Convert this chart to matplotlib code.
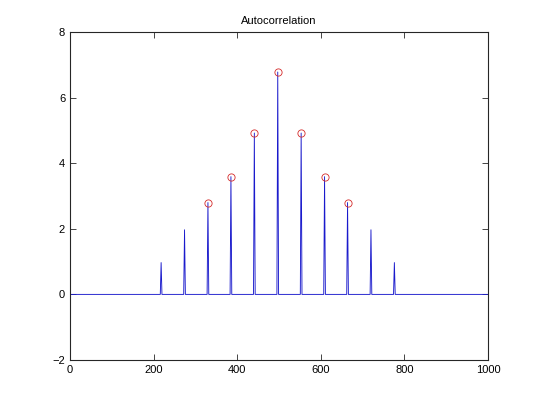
import matplotlib
matplotlib.use("Agg")
import matplotlib.pyplot as plt
import numpy as np

plt.rcParams['font.family'] = ['Liberation Sans', 'DejaVu Sans']

# Data
peak_lags = [218, 274, 330, 385, 441, 497, 553, 609, 664, 720, 776]
peak_values = [0.97, 1.97, 2.80, 3.59, 4.92, 6.78, 4.92, 3.59, 2.80, 1.97, 0.97]
marked_lags = [330, 385, 441, 497, 553, 609, 664]
marked_values = [2.80, 3.59, 4.92, 6.78, 4.92, 3.59, 2.80]
x_start, x_end = 0, 1000
half_width = 2

# Build line vertices: baseline with narrow triangular peaks
xs = [x_start]
ys = [0.0]
for lag, val in zip(peak_lags, peak_values):
    xs += [lag - half_width, lag, lag + half_width]
    ys += [0.0, val, 0.0]
xs.append(x_end)
ys.append(0.0)

fig = plt.figure(figsize=(5.4, 4.05), dpi=100)
ax = fig.add_axes([70/540, 1 - 360/405, (488-70)/540, (360-32)/405])
ax.plot(xs, ys, color='#1a1acc', linewidth=0.65)
ax.plot(marked_lags, marked_values, linestyle='none', marker='o',
        markersize=5.2, markerfacecolor='none', markeredgecolor='#d42a2a',
        markeredgewidth=0.6)

ax.set_xlim(0, 1000)
ax.set_ylim(-2, 8)
ax.set_xticks([0, 200, 400, 600, 800, 1000])
ax.set_yticks([-2, 0, 2, 4, 6, 8])
ax.tick_params(direction='in', top=True, right=True, labelsize=8,
               length=4, width=0.6, colors='#262626', labelcolor='black')
for s in ax.spines.values():
    s.set_linewidth(0.8)
    s.set_color('#262626')
ax.set_title('Autocorrelation', fontsize=8, pad=6)

fig.savefig('out.png', dpi=100)
